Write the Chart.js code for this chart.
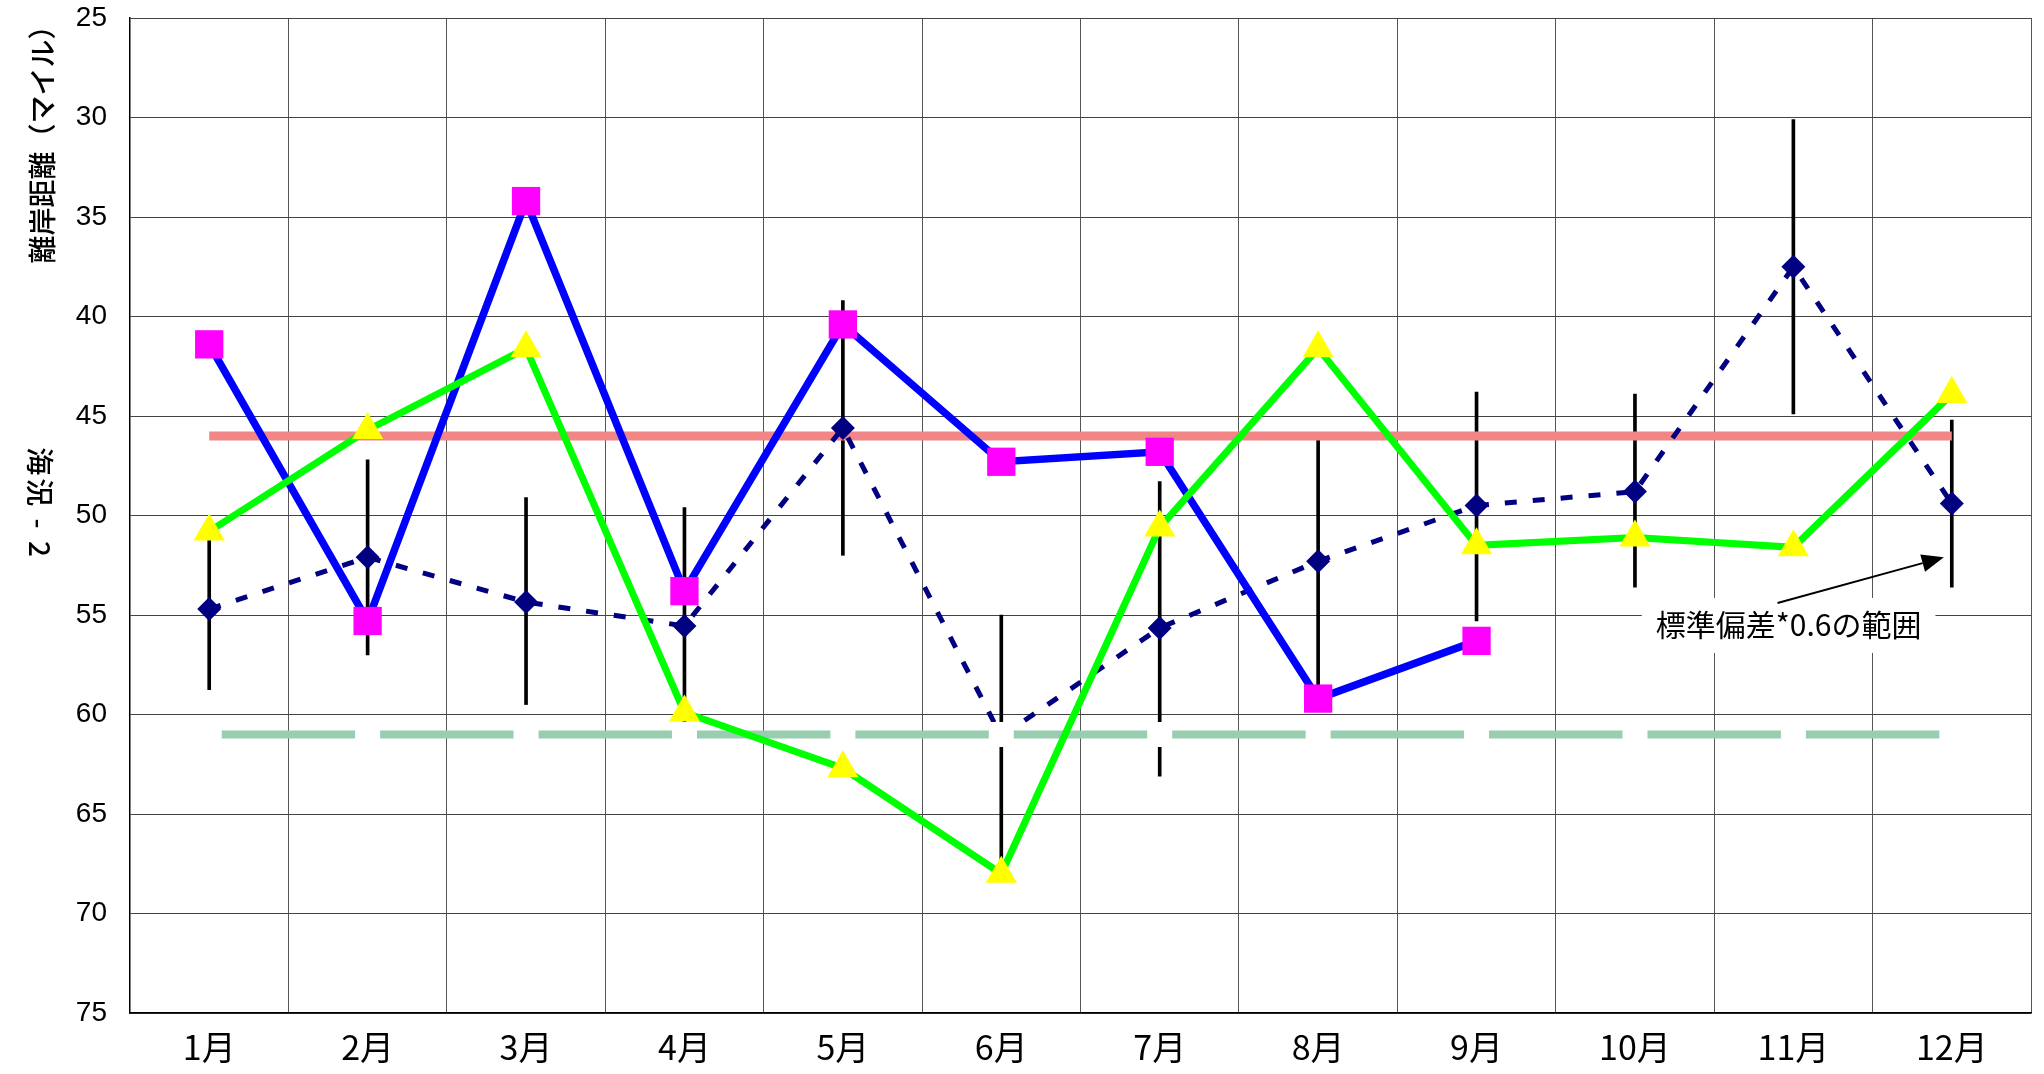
<!DOCTYPE html>
<html lang="ja">
<head>
<meta charset="utf-8">
<title>離岸距離</title>
<script src="https://cdn.jsdelivr.net/npm/chart.js@4.4.1/dist/chart.umd.min.js"></script>
<style>
    html, body { margin: 0; padding: 0; background: #fff; }
    canvas { display: block; }
</style>
</head>
<body>
<canvas id="distanceChart" width="2044" height="1074"></canvas>
<script>
// Categories
const months = ['1月', '2月', '3月', '4月', '5月', '6月', '7月', '8月', '9月', '10月', '11月', '12月'];

// Blue line / magenta squares (no data after 9月)
const seriesA = [41.4, 55.3, 34.2, 53.8, 40.4, 47.3, 46.8, 59.2, 56.3, null, null, null];
// Green line / yellow triangles
const seriesB = [50.8, 45.7, 41.6, 59.9, 62.7, 68.0, 50.6, 41.6, 51.5, 51.1, 51.6, 43.9];
// Mean (navy diamonds, dashed)
const meanValues = [54.7, 52.1, 54.35, 55.55, 45.6, 61.1, 55.65, 52.3, 49.5, 48.8, 37.5, 49.4];
// Mean +/- SD*0.6
const sdLow  = [50.65, 47.2, 49.1, 49.6, 39.2, 55.0, 48.3, 46.05, 43.8, 43.9, 30.1, 45.2];
const sdHigh = [58.75, 57.0, 59.5, 61.5, 52.0, 67.3, 63.1, 58.55, 55.3, 53.6, 44.9, 53.6];
// Reference lines
const upperLine = [46, 46, 46, 46, 46, 46, 46, 46, 46, 46, 46, 46];
const lowerLine = [61, 61, 61, 61, 61, 61, 61, 61, 61, 61, 61, 61];

// Axis
const Y_MIN = 25;
const Y_MAX = 75;
const Y_STEP = 5;

// Texts
const titleTop = '離岸距離（マイル）';
const titleBottom = '海況 - 2';
const noteText = '標準偏差*0.6の範囲';

// Axis titles + annotation
const extrasPlugin = {
    id: 'extras',
    afterDraw(chart) {
        const { ctx, scales: { x, y } } = chart;
        ctx.save();
        ctx.fillStyle = '#000';
        ctx.font = '500 28px "Noto Sans CJK JP"';
        ctx.textAlign = 'center';
        ctx.textBaseline = 'middle';

        // rotated titles on the left
        ctx.save();
        ctx.translate(42, y.getPixelForValue(31.0));
        ctx.rotate(-Math.PI / 2);
        ctx.fillText(titleTop, 0, 0);
        ctx.restore();

        ctx.save();
        ctx.translate(40, y.getPixelForValue(49.4));
        ctx.rotate(Math.PI / 2);
        ctx.letterSpacing = '3px';
        ctx.fillText(titleBottom, 0, 0);
        ctx.restore();

        // note with white box
        ctx.font = '30px "Noto Sans CJK JP"';
        const tx = x.getPixelForValue(9.97);
        const ty = y.getPixelForValue(55.5);
        const w = ctx.measureText(noteText).width + 28;
        ctx.fillStyle = '#fff';
        ctx.fillRect(tx - w / 2, ty - 27, w, 55);
        ctx.fillStyle = '#000';
        ctx.fillText(noteText, tx, ty);

        // arrow
        const x0 = x.getPixelForValue(9.9), y0 = y.getPixelForValue(54.4);
        const x1 = x.getPixelForValue(10.95), y1 = y.getPixelForValue(52.1);
        const ang = Math.atan2(y1 - y0, x1 - x0);
        const head = 22, half = 9;
        ctx.strokeStyle = '#000';
        ctx.lineWidth = 2;
        ctx.beginPath();
        ctx.moveTo(x0, y0);
        ctx.lineTo(x1 - Math.cos(ang) * head, y1 - Math.sin(ang) * head);
        ctx.stroke();
        ctx.beginPath();
        ctx.moveTo(x1, y1);
        ctx.lineTo(x1 - Math.cos(ang) * head - Math.sin(ang) * half, y1 - Math.sin(ang) * head + Math.cos(ang) * half);
        ctx.lineTo(x1 - Math.cos(ang) * head + Math.sin(ang) * half, y1 - Math.sin(ang) * head - Math.cos(ang) * half);
        ctx.closePath();
        ctx.fill();
        ctx.restore();
    }
};

const ctx = document.getElementById('distanceChart').getContext('2d');
new Chart(ctx, {
    type: 'line',
    data: {
        labels: months,
        datasets: [
            {
                label: 'B',
                data: seriesB,
                order: 1,
                borderColor: '#00FF00',
                borderWidth: 7,
                pointStyle: 'triangle',
                pointRadius: 18,
                pointBackgroundColor: '#FFFF00',
                pointBorderWidth: 0
            },
            {
                label: 'A',
                data: seriesA,
                order: 2,
                borderColor: '#0000FF',
                borderWidth: 7.5,
                pointStyle: 'rect',
                pointRadius: 20,
                pointBackgroundColor: '#FF00FF',
                pointBorderWidth: 0,
                spanGaps: false
            },
            {
                label: 'lower',
                data: lowerLine,
                order: 3,
                borderColor: '#98CDB0',
                borderWidth: 8,
                pointStyle: 'rect',
                pointRadius: 17.7,
                pointBackgroundColor: '#FFFFFF',
                pointBorderWidth: 0
            },
            {
                label: 'mean',
                data: meanValues,
                order: 4,
                borderColor: '#000080',
                borderWidth: 5,
                borderDash: [12, 16],
                pointStyle: 'rectRot',
                pointRadius: 12,
                pointBackgroundColor: '#000080',
                pointBorderWidth: 0
            },
            {
                label: 'upper',
                data: upperLine,
                order: 5,
                borderColor: '#F28585',
                borderWidth: 9,
                pointRadius: 0
            },
            {
                type: 'bar',
                label: 'sd',
                data: sdLow.map((lo, i) => [lo, sdHigh[i]]),
                order: 6,
                backgroundColor: '#000',
                borderWidth: 0,
                barThickness: 3
            }
        ]
    },
    options: {
        responsive: false,
        animation: false,
        events: [],
        layout: {
            autoPadding: false,
            padding: { top: 18, right: 13, left: 0, bottom: 0 }
        },
        plugins: {
            legend: { display: false },
            tooltip: { enabled: false }
        },
        elements: { line: { tension: 0 } },
        scales: {
            x: {
                offset: true,
                grid: { offset: true, color: '#555', lineWidth: 1, drawTicks: false },
                border: { color: '#000', width: 1.5 },
                ticks: {
                    color: '#000',
                    font: { family: '"Noto Sans CJK JP"', size: 34 },
                    padding: 14,
                    maxRotation: 0,
                    autoSkip: false
                },
                afterFit(scale) {
                    scale.height = 61;
                    scale.paddingLeft = 0;
                    scale.paddingRight = 0;
                }
            },
            y: {
                min: Y_MIN,
                max: Y_MAX,
                reverse: true,
                grid: { color: '#444', lineWidth: 1, drawTicks: false },
                border: { color: '#000', width: 1.5 },
                ticks: {
                    stepSize: Y_STEP,
                    color: '#000',
                    font: { family: '"Liberation Sans"', size: 28 },
                    padding: 23
                },
                afterFit(scale) {
                    scale.width = 130;
                    scale.paddingTop = 0;
                    scale.paddingBottom = 0;
                }
            }
        }
    },
    plugins: [extrasPlugin]
});
</script>
</body>
</html>
